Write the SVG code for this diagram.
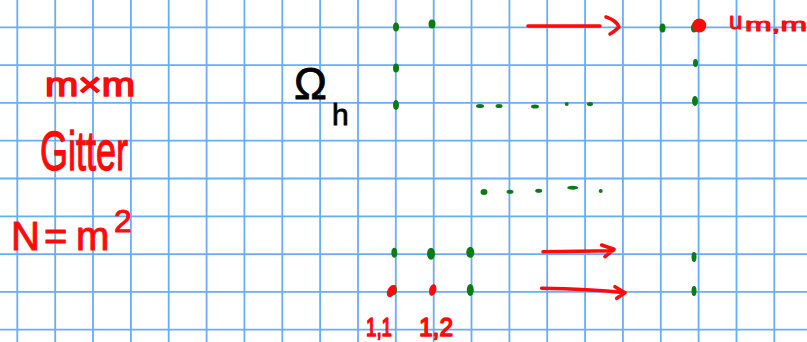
<svg xmlns="http://www.w3.org/2000/svg" width="807" height="342" viewBox="0 0 807 342">
<defs>
<style>
.grid line{stroke:#66adfa;stroke-width:1.8}
.g{fill:#0a7d12}
.r{fill:#ff0a0a}
.pen{font-family:"Liberation Sans",Arial,sans-serif;fill:#ff0a0a;stroke:#ff0a0a;stroke-width:1;stroke-linejoin:round}
.ink{font-family:"Liberation Sans",Arial,sans-serif;fill:#000;stroke:#000;stroke-width:0.8}
.arr{fill:none;stroke:#ff0a0a;stroke-width:3.6;stroke-linecap:round;stroke-linejoin:round}
</style>
</defs>
<rect width="807" height="342" fill="#fff"/>
<g class="grid">
<line x1="17.3" y1="0" x2="17.3" y2="342"/>
<line x1="55.2" y1="0" x2="55.2" y2="342"/>
<line x1="93" y1="0" x2="93" y2="342"/>
<line x1="130.9" y1="0" x2="130.9" y2="342"/>
<line x1="168.7" y1="0" x2="168.7" y2="342"/>
<line x1="206.6" y1="0" x2="206.6" y2="342"/>
<line x1="244.4" y1="0" x2="244.4" y2="342"/>
<line x1="282.3" y1="0" x2="282.3" y2="342"/>
<line x1="320.1" y1="0" x2="320.1" y2="342"/>
<line x1="358" y1="0" x2="358" y2="342"/>
<line x1="395.8" y1="0" x2="395.8" y2="342"/>
<line x1="433.7" y1="0" x2="433.7" y2="342"/>
<line x1="471.5" y1="0" x2="471.5" y2="342"/>
<line x1="509.4" y1="0" x2="509.4" y2="342"/>
<line x1="547.2" y1="0" x2="547.2" y2="342"/>
<line x1="585.1" y1="0" x2="585.1" y2="342"/>
<line x1="622.9" y1="0" x2="622.9" y2="342"/>
<line x1="660.8" y1="0" x2="660.8" y2="342"/>
<line x1="698.6" y1="0" x2="698.6" y2="342"/>
<line x1="736.5" y1="0" x2="736.5" y2="342"/>
<line x1="774.3" y1="0" x2="774.3" y2="342"/>
<line x1="0" y1="27.3" x2="807" y2="27.3"/>
<line x1="0" y1="65.1" x2="807" y2="65.1"/>
<line x1="0" y1="102.9" x2="807" y2="102.9"/>
<line x1="0" y1="140.7" x2="807" y2="140.7"/>
<line x1="0" y1="178.5" x2="807" y2="178.5"/>
<line x1="0" y1="216.3" x2="807" y2="216.3"/>
<line x1="0" y1="254.1" x2="807" y2="254.1"/>
<line x1="0" y1="291.9" x2="807" y2="291.9"/>
<line x1="0" y1="329.7" x2="807" y2="329.7"/>
</g>
<g id="label-mxm"><text class="pen" x="45" y="96" font-size="34" textLength="90" lengthAdjust="spacingAndGlyphs" style="stroke-width:1.6">m×m</text></g>
<g id="label-gitter"><text class="pen" transform="translate(40,170) scale(1,1.3)" x="0" y="0" font-size="42" textLength="88" lengthAdjust="spacingAndGlyphs">Gitter</text></g>
<g id="label-N"><text class="pen" y="250" font-size="40"><tspan x="11">N</tspan><tspan x="44">=</tspan><tspan x="76">m</tspan><tspan x="114" y="232" font-size="32">2</tspan></text></g>
<g id="label-omega"><text class="ink" x="294" y="99" font-size="44">Ω</text><text class="ink" x="332" y="125" font-size="30">h</text></g>
<g id="label-umm"><text class="pen" x="729" y="29" font-size="24">u</text><text class="pen" x="745" y="31" font-size="19" textLength="62" lengthAdjust="spacingAndGlyphs">m,m</text></g>
<g id="label-11"><text class="pen" x="366" y="336" font-size="25" textLength="26" lengthAdjust="spacingAndGlyphs" style="stroke-width:1.5">1,1</text></g>
<g id="label-12"><text class="pen" x="419" y="336" font-size="25" textLength="34" lengthAdjust="spacingAndGlyphs" style="stroke-width:1.5">1,2</text></g>
<g id="points-green">
<ellipse class="g" cx="396" cy="27" rx="3" ry="4.5"/>
<ellipse class="g" cx="432" cy="24" rx="3.5" ry="4.5"/>
<ellipse class="g" cx="662.5" cy="28" rx="3" ry="4.5"/>
<ellipse class="g" cx="694" cy="28" rx="3" ry="4.5"/>
<ellipse class="g" cx="396" cy="68" rx="3" ry="4.5"/>
<ellipse class="g" cx="396" cy="105" rx="3" ry="5"/>
<ellipse class="g" cx="695.5" cy="63" rx="2.5" ry="4"/>
<ellipse class="g" cx="695" cy="101" rx="3" ry="5"/>
<ellipse class="g" cx="480" cy="106" rx="4" ry="2"/>
<ellipse class="g" cx="499" cy="106" rx="3.5" ry="2"/>
<ellipse class="g" cx="535" cy="106.5" rx="4" ry="2"/>
<circle class="g" cx="566.7" cy="104" r="2"/>
<ellipse class="g" cx="590" cy="104" rx="3" ry="2"/>
<ellipse class="g" cx="484" cy="192" rx="3.5" ry="3"/>
<ellipse class="g" cx="510" cy="191.7" rx="3.5" ry="2"/>
<ellipse class="g" cx="538.7" cy="190.7" rx="3.5" ry="2"/>
<ellipse class="g" cx="572.7" cy="187.7" rx="5.5" ry="2"/>
<circle class="g" cx="600.7" cy="191" r="2"/>
<ellipse class="g" cx="394.3" cy="252.7" rx="3" ry="5"/>
<ellipse class="g" cx="431" cy="253.7" rx="4" ry="6"/>
<ellipse class="g" cx="470.3" cy="252.3" rx="4" ry="5.5"/>
<ellipse class="g" cx="394" cy="290" rx="3" ry="5"/>
<ellipse class="g" cx="470.3" cy="290" rx="3.5" ry="6"/>
<ellipse class="g" cx="694" cy="257" rx="2.5" ry="5"/>
<ellipse class="g" cx="694" cy="291" rx="2.5" ry="5"/>
</g>
<g id="points-red">
<circle class="r" cx="699.3" cy="25.5" r="7"/>
<ellipse class="r" cx="391.5" cy="291" rx="4" ry="6.5" transform="rotate(30 391.5 291)"/>
<ellipse class="r" cx="432.7" cy="290" rx="3.5" ry="6" transform="rotate(15 432.7 290)"/>
</g>
<g id="connectors">
<path class="arr" d="M528,26 L600,26 M606,17 Q616,20 619,27 Q614,32 610,34"/>
<path class="arr" d="M543,251.7 L613,250.7 M601.7,245 L614,249.3 L605,256.7"/>
<path class="arr" d="M541.7,288.3 Q590,289 625,292.7 M615,286.7 L625,292.7 L616.7,298.3"/>
</g>
</svg>
